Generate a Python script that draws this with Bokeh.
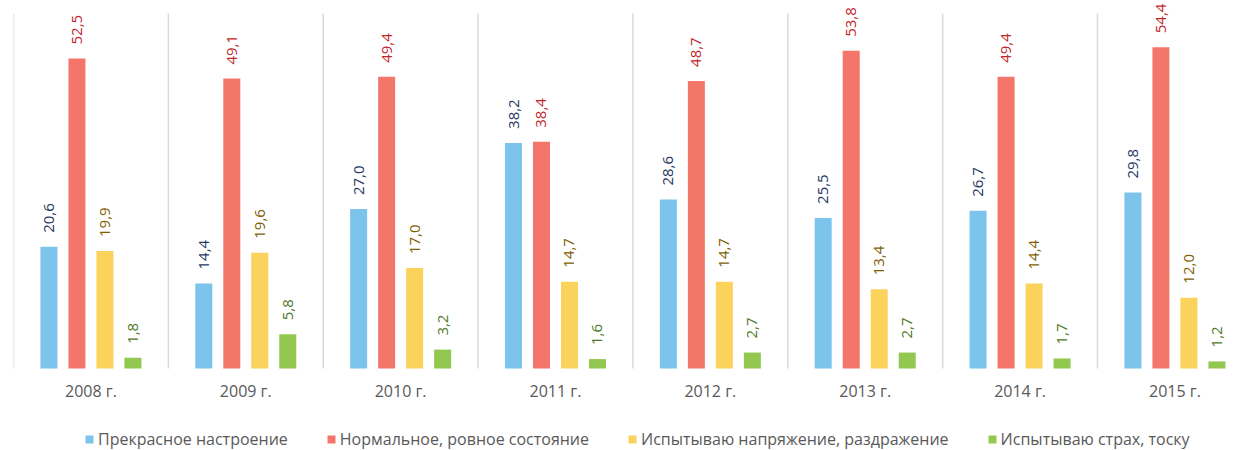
from bokeh.plotting import figure
from bokeh.models import ColumnDataSource, Range1d, Legend, LegendItem
from bokeh.transform import dodge
from bokeh.core.properties import value
from bokeh.embed import file_html
from bokeh.resources import INLINE

years = ["2008 г.", "2009 г.", "2010 г.", "2011 г.", "2012 г.", "2013 г.", "2014 г.", "2015 г."]
excellent = [20.6, 14.4, 27.0, 38.2, 28.6, 25.5, 26.7, 29.8]
normal = [52.5, 49.1, 49.4, 38.4, 48.7, 53.8, 49.4, 54.4]
tension = [19.9, 19.6, 17.0, 14.7, 14.7, 13.4, 14.4, 12.0]
fear = [1.8, 5.8, 3.2, 1.6, 2.7, 2.7, 1.7, 1.2]
series_names = ["Прекрасное настроение", "Нормальное, ровное состояние",
                "Испытываю напряжение, раздражение", "Испытываю страх, тоску"]

bar_colors = ["#7DC4EC", "#F4756A", "#FAD25C", "#92C84F"]
label_colors = ["#1F3864", "#C0272D", "#7F6000", "#4E7A2A"]

FONT = "Open Sans"
centers = [i + 0.5 for i in range(len(years))]

p = figure(frame_width=1226, frame_height=450, output_backend="svg", toolbar_location=None,
           x_range=Range1d(0, 7.917), y_range=Range1d(-13.886, 62.32),
           x_axis_location=None, y_axis_location=None,
           min_border_left=13, min_border_right=0, min_border_top=0, min_border_bottom=0)
p.outline_line_color = None
p.xgrid.grid_line_color = None
p.ygrid.grid_line_color = None

# group separators
seps = list(range(len(years) + 1))
p.segment(x0=seps, x1=seps, y0=[0] * len(seps), y1=[60.1] * len(seps),
          line_color="#D9D9D9", line_width=1.5)

step = 0.1808
width = 0.1098
renderers = []
for k, vals in enumerate([excellent, normal, tension, fear]):
    off = (k - 1.5) * step
    src = ColumnDataSource(dict(x=centers, top=vals,
                                lbl=[f"{v:.1f}".replace(".", ",") for v in vals]))
    r = p.vbar(x=dodge("x", off, range=p.x_range), top="top", bottom=0, width=width, source=src,
               fill_color=bar_colors[k], line_color=None)
    renderers.append(r)
    p.text(x=dodge("x", off, range=p.x_range), y="top", text="lbl", source=src,
           angle=1.5708, text_align="left", text_baseline="middle", y_offset=-14,
           text_font=value(FONT), text_font_size="15px", text_color=label_colors[k])

# category labels under each group
p.text(x=centers, y=[0] * len(centers), text=years, y_offset=22,
       text_align="center", text_baseline="middle",
       text_font=value(FONT), text_font_size="16px", text_color="#595959")

legend = Legend(items=[LegendItem(label=n, renderers=[r]) for n, r in zip(series_names, renderers)],
                orientation="horizontal", location=(71, 0),
                label_text_font=FONT, label_text_font_size="16px", label_text_color="#595959",
                glyph_width=10, glyph_height=10, label_standoff=4, spacing=38,
                label_height=20, padding=0, margin=0, border_line_color=None,
                background_fill_alpha=0)
p.add_layout(legend, "center")

open("out.html", "w").write(file_html(p, INLINE))
